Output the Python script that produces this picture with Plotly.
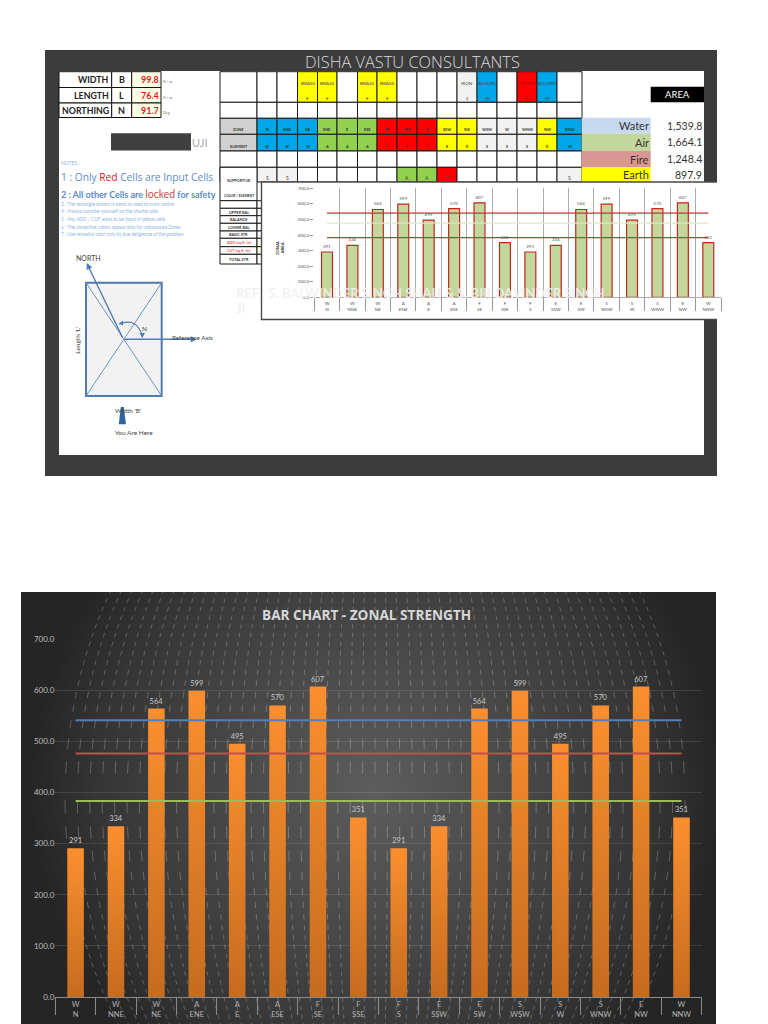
import base64, math
import plotly.graph_objects as go

# ---------- data ----------
ELEMENTS = ["W","W","W","A","A","A","F","F","F","E","E","S","S","S","E","W"]
ZONES = ["N","NNE","NE","ENE","E","ESE","SE","SSE","S","SSW","SW","WSW","W","WNW","NW","NNW"]
ZONE_AREA = [291,334,564,599,495,570,607,351,291,334,564,599,495,570,607,351]
UPPER_BAL = [541,541,541,541,541,541,541,541,541,541,541,541,541,541,541,541]
BALANCE = [476,476,476,476,476,476,476,476,476,476,476,476,476,476,476,476]
LOWER_BAL = [383,383,383,383,383,383,383,383,383,383,383,383,383,383,383,383]
AREA_NAMES = ["Water","Air","Fire","Earth"]
AREA_VALUES = [1539.8,1664.1,1248.4,897.9]
INPUT_NAMES = ["WIDTH","LENGTH","NORTHING"]
INPUT_CODES = ["B","L","N"]
INPUT_VALUES = [99.8,76.4,91.7]
INPUT_UNITS = ["ft / m","ft / m","Deg"]
SUPPORTIVE = ["S","S","","","","","","A","A","F","","","","","","S"]
REMEDY_TOP = {3:"BRASS",4:"BRASS",6:"BRASS",7:"BRASS",11:"IRON",12:"ALUMIN",14:"COPPER",15:"ALUMIN"}
REMEDY_BOT = {3:"E",4:"E",6:"E",7:"E",11:"S",12:"W",14:"F",15:"W"}
LOWER_ROWS = ["","UPPER BAL","BALANCE","LOWER BAL","BASIC STR","ADD (sq ft /m)","CUT (sq ft /m)","TOTAL STR"]
NOTES = ["3 : The rectangle shown is same as used to mark centre",
         "4 : Always consider yourself on the shorter side",
         "5 : Any ADD / CUT areas to be input in yellow cells",
         "6 : The corrective colors appear only for unbalanced Zones",
         "7 : Use remedial color only by due deligience of the problem"]

CATS = [f"{e}<br>{z}" for e, z in zip(ELEMENTS, ZONES)]
W, H = 768, 1024
def px(x): return x / W
def py(y): return 1 - y / H

shapes, ann = [], []
def rect(x0, y0, x1, y1, fill=None, line=None, lw=1):
    shapes.append(dict(type="rect", xref="paper", yref="paper", x0=px(x0), x1=px(x1), y0=py(y0), y1=py(y1),
                       fillcolor=fill or "rgba(0,0,0,0)", line=dict(color=line or "rgba(0,0,0,0)", width=lw if line else 0), layer="below"))
def seg(x0, y0, x1, y1, color, lw=1):
    shapes.append(dict(type="line", xref="paper", yref="paper", x0=px(x0), x1=px(x1), y0=py(y0), y1=py(y1),
                       line=dict(color=color, width=lw), layer="below"))
def path(pts, fill=None, line=None, lw=1, close=False, curve=False):
    d = "M %f %f " % (px(pts[0][0]), py(pts[0][1]))
    if curve:
        d += "Q %f %f %f %f" % (px(pts[1][0]), py(pts[1][1]), px(pts[2][0]), py(pts[2][1]))
    else:
        d += " ".join("L %f %f" % (px(a), py(b)) for a, b in pts[1:])
    if close: d += " Z"
    shapes.append(dict(type="path", xref="paper", yref="paper", path=d, fillcolor=fill or "rgba(0,0,0,0)",
                       line=dict(color=line or "rgba(0,0,0,0)", width=lw if line else 0), layer="below"))
def T(x, y, s, size=8, color="#333", anchor="center", font="Lato", bold=False, angle=0, weight=None):
    f = dict(size=size, color=color, family=font)
    if weight: f["weight"] = weight
    ann.append(dict(xref="paper", yref="paper", x=px(x), y=py(y), text=f"<b>{s}</b>" if bold else s, showarrow=False,
                    xanchor=anchor, yanchor="middle", textangle=angle, borderpad=0, font=f))
def arrow(x0, y0, x1, y1, color="#4f7cb5", lw=1.4):
    ann.append(dict(xref="paper", yref="paper", x=px(x1), y=py(y1), ax=x0 - x1, ay=y0 - y1, axref="pixel", ayref="pixel",
                    text="", showarrow=True, arrowhead=2, arrowsize=0.9, arrowwidth=lw, arrowcolor=color))

# ---------- top sheet ----------
rect(45, 50, 717, 476, "#3c3c3c")
rect(59, 71, 704, 455, "#ffffff")
T(412, 61, "DISHA VASTU CONSULTANTS", 16.4, "#d9d9d9", font="Open Sans", weight=300)

# inputs table
ix = [59, 111.7, 131.7, 161]
iy = [71.7, 87.5, 103, 117.5]
for r, (n, c, v, u) in enumerate(zip(INPUT_NAMES, INPUT_CODES, INPUT_VALUES, INPUT_UNITS)):
    rect(ix[0], iy[r], ix[1], iy[r+1], "#fff", "#111", 1)
    rect(ix[1], iy[r], ix[2], iy[r+1], "#fff", "#111", 1)
    rect(ix[2], iy[r], ix[3], iy[r+1], "#ffffe6", "#111", 1)
    T(110 if r < 2 else 109.5, (iy[r]+iy[r+1])/2, n, 8.8, "#222", "right", "Lato", True)
    T(121.5, (iy[r]+iy[r+1])/2, c, 9, "#222", bold=True, font="Lato")
    T(160, (iy[r]+iy[r+1])/2, f"{v:.1f}", 9, "#e8141c", "right", "Lato", True)
    T(162, (iy[r]+iy[r+1])/2 + 2, u, 3.8, "#777", "left")

rect(111, 133.3, 191, 150.5, "#3f3f3f")
T(191, 142, "UJI", 11, "#a8a8a8", "left")

BL = "#5b8bc9"
T(60, 163, "NOTES :", 5, "#8fb4de", "left")
T(60, 177, "1 : Only <span style='color:#e0141c'>Red</span> Cells are Input Cells", 10.2, BL, "left", "Open Sans")
T(60, 194, "<b>2 : All other Cells are <span style='color:#c0504d;font-size:10.5px;font-weight:normal'>locked</span> for safety</b>", 9, BL, "left", "Lato")
for i, (n, y) in enumerate(zip(NOTES, [203.5, 211, 218.5, 226.5, 234])):
    T(60, y, n, 4.7, "#8fb4de", "left")

# zone table
ex = [220,257,277,297.5,317.5,337,357.5,377,397,417,437,457,477,497,517,537,557,582]
ry = [71.7,102.3,118.3,134.3,151,167.3,182]
BLUE, GREEN, RED, YEL, GREY = "#00a7e8", "#92d050", "#ff0000", "#ffff00", "#f2f2f2"
ELEM_COLOR = {"W": BLUE, "A": GREEN, "F": RED, "E": YEL, "S": GREY}
BOX = "#1a1a1a"
for c in range(17):
    fill0 = "#fff"
    if c in REMEDY_TOP:
        fill0 = {"BRASS": YEL, "IRON": GREY, "ALUMIN": BLUE, "COPPER": RED}[REMEDY_TOP[c]]
    rect(ex[c], ry[0], ex[c+1], ry[1], fill0, BOX)
    rect(ex[c], ry[1], ex[c+1], ry[2], "#fff", BOX)
    zf = "#d0d0d0" if c == 0 else ELEM_COLOR[ELEMENTS[c-1]]
    rect(ex[c], ry[2], ex[c+1], ry[3], zf, BOX)
    rect(ex[c], ry[3], ex[c+1], ry[4], zf, BOX)
    rect(ex[c], ry[4], ex[c+1], ry[5], "#fff", BOX)
    sf = "#fff"
    if c > 0 and SUPPORTIVE[c-1]:
        sf = ELEM_COLOR[SUPPORTIVE[c-1]]
    rect(ex[c], ry[5], ex[c+1], ry[6], sf, BOX)
    mid = (ex[c] + ex[c+1]) / 2
    if c in REMEDY_TOP:
        col = "#a01010" if REMEDY_TOP[c] == "COPPER" else "#444"
        T(mid, 83, REMEDY_TOP[c], 4.6, col)
        T(mid, 98, REMEDY_BOT[c], 4.6, col)
    if c > 0:
        T(mid, 129, ZONES[c-1], 3.8, "#333", bold=True)
        T(mid, 146.5, ELEMENTS[c-1], 3.8, "#333", bold=True)
        if SUPPORTIVE[c-1]:
            T(mid, 178, SUPPORTIVE[c-1], 5, "#444")
T(238.5, 129, "ZONE", 3.8, "#333", bold=True)
T(238.5, 146.5, "ELEMENT", 3.8, "#333", bold=True)

low = [200.7,208.3,215.7,223.3,231,238.3,246.7,254.3,264]
rect(220, 167.3, 257, low[0], "#fff", BOX)
T(238.5, 180, "SUPPORTIVE", 3.8, "#333", bold=True)
T(238.5, 196, "COLOR / ELEMENT", 3.4, "#333", bold=True)
for i, lab in enumerate(LOWER_ROWS):
    rect(220, low[i], 257, low[i+1], "#fff", BOX)
    rect(257, low[i], 263, low[i+1], "#ffffe6" if lab[:3] in ("ADD", "CUT") else "#fff", BOX)
    if lab:
        T(238.5, (low[i]+low[i+1])/2, lab, 3.8, "#e0141c" if lab[:3] in ("ADD", "CUT") else "#333", bold=lab[:3] not in ("ADD", "CUT"))

# area block
rect(650.7, 86.7, 704, 102.3, "#000")
T(677.5, 94.5, "AREA", 9.5, "#fff", font="Lato")
ab = [117.7, 133.5, 151, 167, 182]
af = ["#c6d9f1", "#c3d69b", "#d99694", "#ffff00"]
for i, (n, v) in enumerate(zip(AREA_NAMES, AREA_VALUES)):
    rect(581.7, ab[i], 650.7, ab[i+1], af[i])
    T(650, (ab[i]+ab[i+1])/2, n, 11, "#333", "right")
    T(703, (ab[i]+ab[i+1])/2, f"{v:,.1f}", 10.5, "#333", "right")

# direction diagram
rect(86, 282.7, 161.7, 396, "#f2f2f2", "#5079ad", 2)
seg(86, 282.7, 161.7, 396, "#6d93c4", 1)
seg(161.7, 282.7, 86, 396, "#6d93c4", 1)
arrow(123.3, 339.3, 86.7, 263)
arrow(123.3, 339.3, 197, 339.3)
path([(142.3, 337), (138, 317), (119, 324)], line="#4f7cb5", lw=1.2, curve=True)
path([(142.3, 338), (139.5, 333), (145, 333)], fill="#4f7cb5", close=True)
path([(119, 323.5), (123, 320.5), (123, 325.5)], fill="#4f7cb5", close=True)
path([(120.8, 407), (123.8, 407), (126, 424.3), (118.8, 424.3)], fill="#2f659f", close=True)
T(88, 258.3, "NORTH", 7, "#444")
T(192.7, 337, "Reference Axis", 6.3, "#444")
T(144.7, 328.7, "N", 6.5, "#444")
T(76.7, 340, "Length 'L'", 6.5, "#444", angle=-90)
T(127.7, 410.7, "Width 'B'", 6.5, "#444")
T(134, 432.3, "You Are Here", 6.5, "#444")

# inset panel backing
rect(261.5, 182, 718, 319.5, "#fff", "#4a4a4a", 1.4)
seg(718, 181, 718, 321, "#ffffff", 2)
T(280, 248, "ZONAL<br>AREA", 4.2, "#333", bold=True, angle=-90)
T(235, 293, "REF : S. BALWINDER SINGH SHAH &amp; S. BIR DAVINDER SINGH", 13, "rgba(240,240,240,0.88)", "left", "Lato", True)
T(235, 308, "JI", 13, "rgba(240,240,240,0.88)", "left", "Lato", True)

# ---------- lower chart backdrop (decorative texture, not data) ----------
bx0, by0, bw, bh = 21, 592, 695, 432
cx, cy, rx, ry_ = 375 - bx0, 800 - by0, 310, 400
ys = []
v = 0.0
while v < 0.97:
    ys.append(v)
    v += (8.5 + 18 * math.exp(-(v / 0.2) ** 2)) / ry_
lines = []
for vv in ys:
    for sgn in ([1, -1] if vv > 0 else [1]):
        stp = 8.5 + 18 * math.exp(-(vv / 0.2) ** 2)
        dash = stp * 0.5
        yy = cy + sgn * vv * ry_
        if yy < -5 or yy > bh + 5:
            continue
        k = math.sqrt(1 - vv ** 2)
        k2 = math.sqrt(max(0, 1 - (vv + dash / ry_) ** 2))
        for iu in range(-25, 26):
            u = iu * 0.04
            x1 = cx + rx * u * k
            x2 = cx + rx * u * k2
            y2 = yy + sgn * dash
            lines.append(f"M{x1:.1f} {yy:.1f}L{x2:.1f} {y2:.1f}")
svg = f'''<svg xmlns="http://www.w3.org/2000/svg" width="{bw}" height="{bh}" viewBox="0 0 {bw} {bh}">
<defs><radialGradient id="rg" gradientUnits="userSpaceOnUse" cx="{cx}" cy="{cy-10}" r="345">
<stop offset="0" stop-color="#5d5d5d"/><stop offset="0.45" stop-color="#474747"/><stop offset="0.8" stop-color="#353535"/><stop offset="1" stop-color="#252525"/></radialGradient></defs>
<rect width="{bw}" height="{bh}" fill="#242424"/>
<rect width="{bw}" height="{bh}" fill="url(#rg)"/>
<path d="{''.join(lines)}" stroke="#ffffff" stroke-opacity="0.34" stroke-width="0.7" fill="none"/>
</svg>'''
bg_src = "data:image/svg+xml;base64," + base64.b64encode(svg.encode()).decode()
images = [dict(source=bg_src, xref="paper", yref="paper", x=px(bx0), y=py(by0), sizex=bw / W, sizey=bh / H,
               sizing="stretch", xanchor="left", yanchor="top", layer="below")]
T(366, 614, "BAR CHART - ZONAL STRENGTH", 13.6, "#d8d8d8", font="Open Sans", bold=True)

# ---------- traces ----------
fig = go.Figure()
# main chart
fig.add_trace(go.Bar(x=CATS, y=ZONE_AREA, width=0.41, marker=dict(color="#ea8229", line=dict(width=0)),
                     text=[str(v) for v in ZONE_AREA], textposition="outside", cliponaxis=False,
                     textfont=dict(size=7.5, color="#c8c8c8", family="Lato"), xaxis="x", yaxis="y"))
for vals, col in [(UPPER_BAL, "#4f81bd"), (BALANCE, "#c0504d"), (LOWER_BAL, "#9bbb59")]:
    fig.add_trace(go.Scatter(x=CATS, y=vals, mode="lines", line=dict(color=col, width=2), xaxis="x", yaxis="y"))
# inset chart
fig.add_trace(go.Bar(x=CATS, y=ZONE_AREA, width=0.43, marker=dict(color="#c3d69b", line=dict(color="#c0281c", width=1.2)),
                     text=[str(v) for v in ZONE_AREA], textposition="outside", cliponaxis=False,
                     textfont=dict(size=4.5, color="#555", family="Lato"), xaxis="x2", yaxis="y2"))
for vals, col in [(UPPER_BAL, "#c0393a"), (BALANCE, "#dde6c6"), (LOWER_BAL, "#c0393a")]:
    fig.add_trace(go.Scatter(x=CATS, y=vals, mode="lines", line=dict(color=col, width=1.2), xaxis="x2", yaxis="y2"))

fig.update_layout(
    width=W, height=H, margin=dict(l=0, r=0, t=0, b=0, pad=0, autoexpand=False), showlegend=False,
    paper_bgcolor="#ffffff", plot_bgcolor="rgba(0,0,0,0)",
    shapes=shapes, annotations=ann, images=images, bargap=0.5, hovermode=False,
    xaxis=dict(domain=[px(55.4), px(701.7)], anchor="y", type="category", categoryorder="array", categoryarray=CATS, automargin=False,
               tickson="boundaries", ticks="outside", ticklen=17, tickcolor="#8a8a8a", tickwidth=1, showline=True,
               linecolor="#8a8a8a", linewidth=1, showgrid=False, zeroline=False, ticklabelstandoff=0,
               tickfont=dict(size=7.5, color="#b4b4b4", family="Lato")),
    yaxis=dict(domain=[py(997), py(639)], anchor="x", range=[0, 700], tickvals=[0,100,200,300,400,500,600,700], tickformat=".1f", automargin=False,
               showline=False, gridcolor="rgba(255,255,255,0.11)", gridwidth=1, zeroline=False, ticks="",
               tickfont=dict(size=8, color="#bdbdbd", family="Lato")),
    xaxis2=dict(domain=[px(314.3), px(721)], anchor="y2", type="category", categoryorder="array", categoryarray=CATS, automargin=False,
                tickson="boundaries", ticks="outside", ticklen=12.5, tickcolor="#999", tickwidth=1, showline=True,
                linecolor="#aaa", linewidth=1, showgrid=True, gridcolor="#aaa", gridwidth=1, zeroline=False, ticklabelstandoff=1,
                tickfont=dict(size=4.6, color="#555", family="Lato")),
    yaxis2=dict(domain=[py(297.3), py(188.3)], anchor="x2", range=[0, 700], tickvals=[0,100,200,300,400,500,600,700], tickformat=".1f", automargin=False,
                showline=False, showgrid=False, zeroline=False, ticks="outside", ticklen=3, tickcolor="#999",
                tickfont=dict(size=4.6, color="#555", family="Lato")),
)

POST = """
document.body.style.margin='0';
var gd=document.getElementById('{plot_id}');
var svg=gd.querySelector('.main-svg');
var NS='http://www.w3.org/2000/svg';
var defs=svg.querySelector('defs');
var g=document.createElementNS(NS,'linearGradient');
g.setAttribute('id','barOrange');g.setAttribute('x1','0');g.setAttribute('y1','0');g.setAttribute('x2','0');g.setAttribute('y2','1');
[['0','#fb8f2f'],['1','#c66c1f']].forEach(function(s){var t=document.createElementNS(NS,'stop');t.setAttribute('offset',s[0]);t.setAttribute('stop-color',s[1]);g.appendChild(t);});
defs.appendChild(g);
gd.querySelectorAll('.subplot.xy .barlayer .point path').forEach(function(p){p.style.fill='url(#barOrange)';});
"""
fig.write_html("out.html", post_script=POST, config=dict(displayModeBar=False))
